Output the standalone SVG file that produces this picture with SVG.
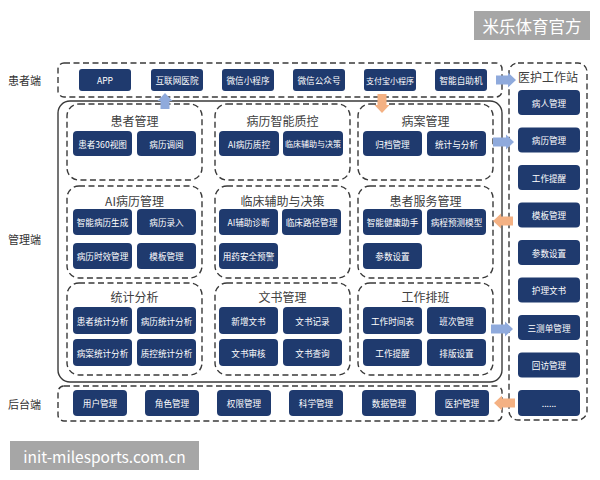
<svg xmlns="http://www.w3.org/2000/svg" width="600" height="480" viewBox="0 0 600 480">
<defs>
<style>
.bg{fill:#ffffff}
.dash{fill:none;stroke:#3a3a3a;stroke-width:1.4;stroke-dasharray:6 3.5}
.solid{fill:none;stroke:#3a3a3a;stroke-width:1.4}
.btn{fill:#1f3a6e}
.bt{fill:#ffffff;font-family:"Noto Sans CJK SC","Liberation Sans",sans-serif;font-size:8.6px;text-anchor:middle;dominant-baseline:central}
.bts{font-size:8px}
.ttl{fill:#404040;font-family:"Noto Sans CJK SC","Liberation Sans",sans-serif;font-size:12px;text-anchor:middle;dominant-baseline:central}
.side{fill:#333333;font-family:"Noto Sans CJK SC","Liberation Sans",sans-serif;font-size:11px;dominant-baseline:central}
.ab{fill:#8faadc}
.ao{fill:#f4b183}
.wm{fill:#a6a6a6}
.wmt{fill:#ffffff;font-family:"Noto Sans CJK SC","Liberation Sans",sans-serif;dominant-baseline:central}
</style>
</defs>
<rect class="bg" x="0" y="0" width="600" height="480"/>

<g id="watermark-top">
<rect class="wm" x="474" y="11" width="116" height="29"/>
<text class="wmt" x="532" y="26" font-size="16.5" text-anchor="middle">米乐体育官方</text>
</g>
<g id="watermark-bottom">
<rect class="wm" x="10" y="441" width="189" height="29"/>
<text class="wmt" x="104.5" y="456" font-size="15.5" text-anchor="middle">init-milesports.com.cn</text>
</g>

<g id="side-labels">
<text class="side" x="8" y="80">患者端</text>
<text class="side" x="8" y="239">管理端</text>
<text class="side" x="8" y="404">后台端</text>
</g>

<g id="patient-end">
<rect class="dash" x="58" y="63" width="444" height="34" rx="6"/>
<g id="p-app"><rect class="btn" x="79" y="69" width="52" height="22" rx="3"/><text class="bt" x="105" y="80">APP</text></g>
<g id="p-hosp"><rect class="btn" x="151" y="69" width="52" height="22" rx="3"/><text class="bt" x="177" y="80">互联网医院</text></g>
<g id="p-wxmini"><rect class="btn" x="222" y="69" width="52" height="22" rx="3"/><text class="bt" x="248" y="80">微信小程序</text></g>
<g id="p-wxpub"><rect class="btn" x="293" y="69" width="52" height="22" rx="3"/><text class="bt" x="319" y="80">微信公众号</text></g>
<g id="p-alipay"><rect class="btn" x="364" y="69" width="52" height="22" rx="3"/><text class="bt bts" x="390" y="80">支付宝小程序</text></g>
<g id="p-kiosk"><rect class="btn" x="435" y="69" width="52" height="22" rx="3"/><text class="bt" x="461" y="80">智能自助机</text></g>
</g>

<g id="management">
<rect class="solid" x="58" y="101" width="444" height="281" rx="12"/>

<g id="m-patient">
<rect class="dash" x="67" y="104" width="135" height="76" rx="12"/>
<text class="ttl" x="134.5" y="120">患者管理</text>
<rect class="btn" x="73" y="131" width="59" height="25" rx="4"/><text class="bt" x="102.5" y="143.5">患者360视图</text>
<rect class="btn" x="137" y="131" width="59" height="25" rx="4"/><text class="bt" x="166.5" y="143.5">病历调阅</text>
</g>
<g id="m-qc">
<rect class="dash" x="215" y="104" width="135" height="76" rx="12"/>
<text class="ttl" x="282.5" y="120">病历智能质控</text>
<rect class="btn" x="219" y="131" width="60" height="25" rx="4"/><text class="bt" x="249" y="143.5">AI病历质控</text>
<rect class="btn" x="283" y="131" width="60" height="25" rx="4"/><text class="bt bts" x="313" y="143.5">临床辅助与决策</text>
</g>
<g id="m-case">
<rect class="dash" x="358" y="104" width="135" height="76" rx="12"/>
<text class="ttl" x="425.5" y="120">病案管理</text>
<rect class="btn" x="363" y="131" width="59" height="25" rx="4"/><text class="bt" x="392.5" y="143.5">归档管理</text>
<rect class="btn" x="427" y="131" width="59" height="25" rx="4"/><text class="bt" x="456.5" y="143.5">统计与分析</text>
</g>

<g id="m-ai">
<rect class="dash" x="67" y="186" width="135" height="92" rx="12"/>
<text class="ttl" x="134.5" y="200">AI病历管理</text>
<rect class="btn" x="73" y="209" width="59" height="26" rx="4"/><text class="bt" x="102.5" y="222">智能病历生成</text>
<rect class="btn" x="137" y="209" width="59" height="26" rx="4"/><text class="bt" x="166.5" y="222">病历录入</text>
<rect class="btn" x="73" y="243" width="59" height="26" rx="4"/><text class="bt" x="102.5" y="256">病历时效管理</text>
<rect class="btn" x="137" y="243" width="59" height="26" rx="4"/><text class="bt" x="166.5" y="256">模板管理</text>
</g>
<g id="m-clinical">
<rect class="dash" x="215" y="186" width="135" height="92" rx="12"/>
<text class="ttl" x="282.5" y="200">临床辅助与决策</text>
<rect class="btn" x="219" y="209" width="59" height="26" rx="4"/><text class="bt" x="248.5" y="222">AI辅助诊断</text>
<rect class="btn" x="282" y="209" width="59" height="26" rx="4"/><text class="bt" x="311.5" y="222">临床路径管理</text>
<rect class="btn" x="219" y="243" width="59" height="26" rx="4"/><text class="bt" x="248.5" y="256">用药安全预警</text>
</g>
<g id="m-service">
<rect class="dash" x="358" y="186" width="135" height="92" rx="12"/>
<text class="ttl" x="425.5" y="200">患者服务管理</text>
<rect class="btn" x="363" y="209" width="59" height="26" rx="4"/><text class="bt" x="392.5" y="222">智能健康助手</text>
<rect class="btn" x="427" y="209" width="59" height="26" rx="4"/><text class="bt" x="456.5" y="222">病程预测模型</text>
<rect class="btn" x="363" y="243" width="59" height="26" rx="4"/><text class="bt" x="392.5" y="256">参数设置</text>
</g>

<g id="m-stats">
<rect class="dash" x="67" y="283" width="135" height="92" rx="12"/>
<text class="ttl" x="134.5" y="296">统计分析</text>
<rect class="btn" x="73" y="307" width="59" height="27" rx="4"/><text class="bt" x="102.5" y="320.5">患者统计分析</text>
<rect class="btn" x="137" y="307" width="59" height="27" rx="4"/><text class="bt" x="166.5" y="320.5">病历统计分析</text>
<rect class="btn" x="73" y="339" width="59" height="27" rx="4"/><text class="bt" x="102.5" y="352.5">病案统计分析</text>
<rect class="btn" x="137" y="339" width="59" height="27" rx="4"/><text class="bt" x="166.5" y="352.5">质控统计分析</text>
</g>
<g id="m-docs">
<rect class="dash" x="215" y="283" width="135" height="92" rx="12"/>
<text class="ttl" x="282.5" y="296">文书管理</text>
<rect class="btn" x="219" y="307" width="59" height="27" rx="4"/><text class="bt" x="248.5" y="320.5">新增文书</text>
<rect class="btn" x="283" y="307" width="59" height="27" rx="4"/><text class="bt" x="312.5" y="320.5">文书记录</text>
<rect class="btn" x="219" y="339" width="59" height="27" rx="4"/><text class="bt" x="248.5" y="352.5">文书审核</text>
<rect class="btn" x="283" y="339" width="59" height="27" rx="4"/><text class="bt" x="312.5" y="352.5">文书查询</text>
</g>
<g id="m-shift">
<rect class="dash" x="358" y="283" width="135" height="92" rx="12"/>
<text class="ttl" x="425.5" y="296">工作排班</text>
<rect class="btn" x="363" y="307" width="59" height="27" rx="4"/><text class="bt" x="392.5" y="320.5">工作时间表</text>
<rect class="btn" x="427" y="307" width="59" height="27" rx="4"/><text class="bt" x="456.5" y="320.5">班次管理</text>
<rect class="btn" x="363" y="339" width="59" height="27" rx="4"/><text class="bt" x="392.5" y="352.5">工作提醒</text>
<rect class="btn" x="427" y="339" width="59" height="27" rx="4"/><text class="bt" x="456.5" y="352.5">排版设置</text>
</g>
</g>

<g id="backend">
<rect class="dash" x="58" y="386" width="444" height="35" rx="6"/>
<g id="b-user"><rect class="btn" x="73" y="390" width="54" height="26" rx="4"/><text class="bt" x="100" y="403">用户管理</text></g>
<g id="b-role"><rect class="btn" x="145" y="390" width="54" height="26" rx="4"/><text class="bt" x="172" y="403">角色管理</text></g>
<g id="b-perm"><rect class="btn" x="217" y="390" width="54" height="26" rx="4"/><text class="bt" x="244" y="403">权限管理</text></g>
<g id="b-sci"><rect class="btn" x="289" y="390" width="54" height="26" rx="4"/><text class="bt" x="316" y="403">科学管理</text></g>
<g id="b-data"><rect class="btn" x="362" y="390" width="54" height="26" rx="4"/><text class="bt" x="389" y="403">数据管理</text></g>
<g id="b-med"><rect class="btn" x="435" y="390" width="54" height="26" rx="4"/><text class="bt" x="462" y="403">医护管理</text></g>
</g>

<g id="workstation">
<rect class="dash" x="509" y="63" width="78" height="357" rx="9"/>
<text class="ttl" x="548" y="76">医护工作站</text>
<g id="w1"><rect class="btn" x="518" y="90" width="62" height="25" rx="4"/><text class="bt" x="549" y="102.5">病人管理</text></g>
<g id="w2"><rect class="btn" x="518" y="127.5" width="62" height="25" rx="4"/><text class="bt" x="549" y="140">病历管理</text></g>
<g id="w3"><rect class="btn" x="518" y="165" width="62" height="25" rx="4"/><text class="bt" x="549" y="177.5">工作提醒</text></g>
<g id="w4"><rect class="btn" x="518" y="202.5" width="62" height="25" rx="4"/><text class="bt" x="549" y="215">模板管理</text></g>
<g id="w5"><rect class="btn" x="518" y="240" width="62" height="25" rx="4"/><text class="bt" x="549" y="252.5">参数设置</text></g>
<g id="w6"><rect class="btn" x="518" y="277.5" width="62" height="25" rx="4"/><text class="bt" x="549" y="290">护理文书</text></g>
<g id="w7"><rect class="btn" x="518" y="315" width="62" height="25" rx="4"/><text class="bt" x="549" y="327.5">三测单管理</text></g>
<g id="w8"><rect class="btn" x="518" y="352.5" width="62" height="25" rx="4"/><text class="bt" x="549" y="365">回访管理</text></g>
<g id="w9"><rect class="btn" x="518" y="390" width="62" height="26" rx="4"/><text class="bt" x="549" y="403">......</text></g>
</g>

<g id="connectors">
<path class="ab" d="M496 75.5 H508 V72.5 L516 80 L508 87.5 V84.5 H496 Z"/>
<path class="ab" d="M493 137.5 H506 V134.5 L514 142 L506 149.5 V146.5 H493 Z"/>
<path class="ao" d="M513 216.5 H501 V213.5 L493 221 L501 228.5 V225.5 H513 Z"/>
<path class="ab" d="M491 324.5 H505 V321.5 L513 329 L505 336.5 V333.5 H491 Z"/>
<path class="ao" d="M515 398.5 H502 V395.5 L494 403 L502 410.5 V407.5 H515 Z"/>
<path class="ab" d="M160.5 109 V101 H157.5 L165 93 L172.5 101 H169.5 V109 Z"/>
<path class="ao" d="M377.5 94 V105 H374.5 L382 113 L389.5 105 H386.5 V94 Z"/>
</g>
</svg>
